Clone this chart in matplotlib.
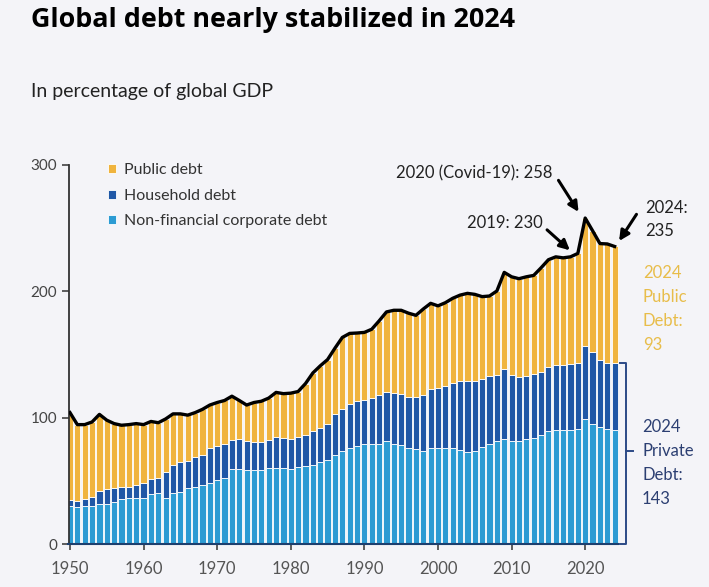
import matplotlib
matplotlib.use("Agg")
import matplotlib.pyplot as plt
import numpy as np

years = np.arange(1950, 2025)

corporate = [29.7, 29.0, 29.7, 29.7, 32.0, 32.0, 33.6, 35.4, 36.7, 36.7,
             36.7, 39.4, 40.0, 36.2, 40.2, 41.5, 44.0, 45.4, 47.0, 48.0,
             50.7, 52.5, 59.0, 59.0, 58.5, 58.5, 58.5, 60.4, 60.4, 60.0,
             59.3, 61.0, 62.0, 62.5, 65.0, 66.4, 70.3, 73.5, 76.0, 77.7,
             79.5, 79.5, 79.5, 81.4, 79.5, 78.7, 75.6, 75.0, 73.8, 75.6,
             76.0, 76.0, 75.6, 74.3, 73.0, 73.5, 77.0, 79.5, 81.4, 83.5,
             81.4, 81.4, 83.5, 84.0, 86.6, 89.2, 90.0, 90.0, 90.0, 91.3,
             99.2, 95.3, 92.7, 90.8, 90.5]
household = [5.3, 5.0, 6.0, 7.8, 10.0, 11.3, 10.4, 10.0, 8.7, 10.3,
             11.9, 12.0, 12.5, 20.8, 22.3, 23.1, 21.6, 23.6, 23.3, 28.0,
             26.7, 27.0, 23.7, 24.0, 22.9, 22.3, 22.3, 21.6, 24.1, 24.0,
             24.2, 23.5, 24.6, 26.7, 26.9, 28.9, 32.3, 33.1, 34.5, 35.3,
             34.1, 36.0, 38.1, 38.6, 39.9, 40.3, 40.7, 41.3, 43.8, 47.2,
             47.4, 49.0, 51.7, 54.6, 55.9, 55.4, 53.7, 53.3, 52.6, 55.1,
             52.5, 50.6, 49.3, 50.4, 49.4, 50.8, 52.0, 52.0, 52.5, 52.0,
             57.2, 56.4, 53.3, 52.8, 52.5]
public = [69.0, 60.5, 58.8, 59.1, 60.6, 54.7, 51.3, 48.6, 49.1, 48.3,
          45.9, 45.6, 43.5, 42.0, 40.5, 38.4, 36.4, 35.0, 36.3, 34.0,
          34.6, 34.1, 34.3, 30.6, 28.6, 31.2, 32.2, 33.5, 35.5, 35.0,
          35.9, 36.2, 40.4, 46.2, 49.1, 50.7, 52.4, 56.9, 56.2, 54.0,
          53.9, 54.5, 59.0, 63.7, 65.6, 66.0, 66.4, 64.7, 68.4, 67.7,
          65.1, 66.0, 67.2, 68.1, 69.5, 68.7, 65.1, 63.5, 66.3, 76.4,
          77.6, 78.0, 78.7, 78.2, 82.6, 85.0, 85.3, 84.5, 84.8, 86.7,
          101.6, 96.3, 91.8, 93.9, 92.5]

labels = ["Public debt", "Household debt", "Non-financial corporate debt"]
colors = {"public": "#F0B43E", "household": "#1F57A6", "corporate": "#2C9BD3"}

W, H = 709, 587
BG = "#F4F4F8"
plt.rcParams["font.family"] = ["Lato", "DejaVu Sans"]


def fpx(x, y):
    return (x / W, 1 - y / H)


corp = np.array(corporate)
hh = np.array(household)
pub = np.array(public)
total = corp + hh + pub

fig = plt.figure(figsize=(W / 100, H / 100), dpi=100, facecolor=BG)
ax = fig.add_axes([68.5 / W, 1 - 544 / H, 590.3 / W, 379 / H])
ax.set_facecolor(BG)

bw = 0.84
ax.bar(years, corp, width=bw, color=colors["corporate"], edgecolor="white",
       linewidth=0.6, label=labels[2], zorder=2)
ax.bar(years, hh, bottom=corp, width=bw, color=colors["household"],
       edgecolor="white", linewidth=0.6, label=labels[1], zorder=2)
ax.bar(years, pub, bottom=corp + hh, width=bw, color=colors["public"],
       edgecolor="white", linewidth=0.6, label=labels[0], zorder=2)
ax.plot(years, total, color="black", lw=2.4, zorder=3, solid_joinstyle="round")

ax.set_xlim(1949.8, 2030)
ax.set_ylim(0, 300)
for s in ["top", "right", "bottom"]:
    ax.spines[s].set_visible(False)
ax.spines["left"].set_color("#333333")
ax.spines["left"].set_linewidth(1.3)
ax.plot([1949.8, years[-1] + bw / 2], [0, 0], color="#1d3f6e", lw=1.5,
        zorder=4, clip_on=False)

ax.set_yticks([0, 100, 200, 300])
ax.set_xticks(np.arange(1950, 2030, 10))
ax.tick_params(axis="y", length=5, width=1.1, color="#333333", pad=3,
               labelsize=11, labelcolor="#444444")
ax.tick_params(axis="x", length=4, width=1.1, color="#333333", pad=8,
               labelsize=12, labelcolor="#555555")

handles, labs = ax.get_legend_handles_labels()
leg = ax.legend(handles[::-1], labs[::-1], loc="upper left",
                bbox_to_anchor=fpx(102, 157), bbox_transform=fig.transFigure,
                frameon=False, fontsize=11.5, handlelength=0.5, handleheight=0.5,
                handletextpad=0.45, labelspacing=0.72, borderaxespad=0)
for t in leg.get_texts():
    t.set_color("#333333")

# annotations
txt_kw = dict(fontsize=12, color="#222222", transform=fig.transFigure)
fig.text(*fpx(553, 173), "2020 (Covid-19): 258", ha="right", va="center", **txt_kw)
fig.text(*fpx(543, 223), "2019: 230", ha="right", va="center", **txt_kw)
fig.text(*fpx(645, 208), "2024:", ha="left", va="center", **txt_kw)
fig.text(*fpx(645, 231), "235", ha="left", va="center", **txt_kw)

arrow = dict(arrowstyle="-|>,head_length=0.6,head_width=0.3", color="black", lw=2.2)
ax.annotate("", xy=(2019.3, 261), xytext=fpx(557, 178),
            textcoords="figure fraction", arrowprops=arrow)
ax.annotate("", xy=(2018.2, 231), xytext=fpx(545, 228),
            textcoords="figure fraction", arrowprops=arrow)
ax.annotate("", xy=(2024.4, 238), xytext=fpx(638, 212),
            textcoords="figure fraction", arrowprops=arrow)

for i, line in enumerate(["2024", "Public", "Debt:", "93"]):
    fig.text(*fpx(643, 273 + 24 * i), line, ha="left", va="center",
             fontsize=12, color="#E8BD4A", transform=fig.transFigure)
for i, line in enumerate(["2024", "Private", "Debt:", "143"]):
    fig.text(*fpx(642, 427 + 24 * i), line, ha="left", va="center",
             fontsize=12, color="#2C3F72", transform=fig.transFigure)

# bracket for private debt
bx = 2025.6
top = corp[-1] + hh[-1]
bc = "#2C4A86"
ax.plot([bx - 0.9, bx, bx, bx - 0.9], [top, top, 0, 0], color=bc, lw=1.4,
        clip_on=False, zorder=4)
ax.plot([bx, bx + 0.9], [top / 2 * 1.03, top / 2 * 1.03], color=bc, lw=1.4,
        clip_on=False, zorder=4)

fig.text(*fpx(31, 27), "Global debt nearly stabilized in 2024", ha="left",
         va="baseline", fontsize=19.4, fontweight="bold", color="black",
         family=["Open Sans", "DejaVu Sans"])
fig.text(*fpx(31, 97), "In percentage of global GDP", ha="left",
         va="baseline", fontsize=14, color="#222222")

fig.savefig("out.png", dpi=100, facecolor=BG)
